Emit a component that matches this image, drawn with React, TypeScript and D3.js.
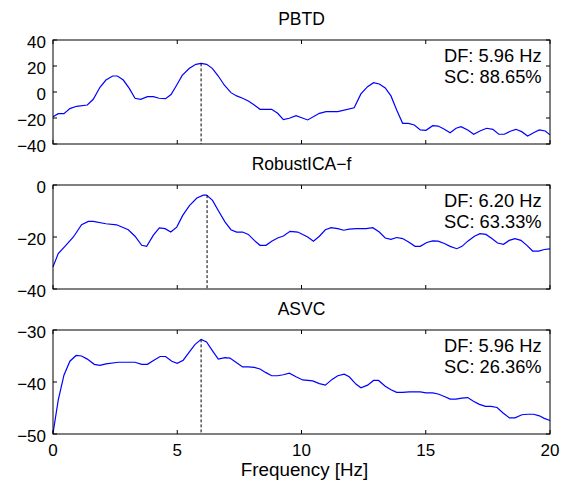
import React from 'react'
import * as d3 from 'd3'

// frequency (Hz) / magnitude (dB) samples
const pbtdFreq = [0, 0.21, 0.44, 0.68, 0.95, 1.38, 1.62, 1.89, 2.13, 2.4, 2.59, 2.83, 3.07, 3.3, 3.53, 3.8, 4.04, 4.27, 4.53, 4.75, 4.98, 5.2, 5.49, 5.75, 5.96, 6.18, 6.41, 6.65, 6.89, 7.16, 7.39, 7.63, 7.86, 8.1, 8.33, 8.57, 8.8, 9.04, 9.27, 9.51, 9.78, 10.25, 10.72, 10.99, 11.46, 12.12, 12.39, 12.66, 12.9, 13.13, 13.37, 13.6, 13.83, 14.07, 14.3, 14.54, 14.78, 15.01, 15.28, 15.5, 15.75, 15.98, 16.22, 16.42, 16.69, 16.93, 17.18, 17.45, 17.7, 17.94, 18.16, 18.43, 18.63, 18.86, 19.1, 19.34, 19.57, 19.81, 20]
const pbtdVal = [-19, -16.7, -16.7, -12.8, -11, -10, -5.6, 3.6, 9.2, 12.3, 12.3, 9.2, 2.8, -4.8, -5.6, -3.6, -3.6, -4.8, -5.1, -2, 5.4, 12.8, 18.2, 21.3, 22, 21.3, 18.2, 12.3, 5.4, -0.5, -3, -4.8, -6.9, -10, -13.3, -13.3, -13.3, -16.4, -21.2, -20.2, -18.2, -21.5, -16.4, -15.1, -15.1, -12.1, -1.5, 4.1, 7.2, 6.2, 3.1, -3, -13.8, -24.1, -24.1, -25.4, -29.2, -29.5, -25.9, -26.2, -28.7, -31.3, -27.9, -26.7, -29.2, -32.5, -30, -27.9, -28.7, -32.5, -32.5, -30, -28.7, -30.5, -33.8, -31.3, -29.2, -30, -33]

const ricaFreq = [0, 0.21, 0.48, 0.82, 1.15, 1.42, 1.62, 2.13, 2.56, 3.03, 3.3, 3.57, 3.77, 4.04, 4.28, 4.51, 4.74, 4.98, 5.22, 5.49, 5.79, 6.05, 6.18, 6.42, 6.65, 6.92, 7.16, 7.39, 7.63, 7.86, 8.1, 8.33, 8.57, 8.8, 9.04, 9.27, 9.54, 9.85, 10.25, 10.48, 10.72, 10.96, 11.19, 11.46, 11.7, 11.92, 12.2, 12.6, 12.87, 13.13, 13.37, 13.6, 13.83, 14.07, 14.31, 14.57, 14.78, 15.04, 15.28, 15.5, 15.75, 15.98, 16.25, 16.46, 16.69, 16.96, 17.18, 17.42, 17.66, 17.89, 18.13, 18.36, 18.59, 18.83, 19.07, 19.3, 19.54, 19.77, 20]
const ricaVal = [-31.5, -26.4, -23.6, -20, -15.3, -14, -14, -14.9, -15.3, -17.2, -19.7, -23.2, -23.6, -19.3, -16.5, -16.8, -18.1, -16.2, -11.7, -7.9, -5, -3.9, -3.9, -5.9, -9.8, -14.2, -17.2, -18.1, -18.1, -19, -21.3, -23.2, -23.2, -21.6, -20.4, -19.6, -17.8, -18.1, -20, -21.6, -19.7, -17.2, -16.4, -16.8, -17.4, -17, -16.8, -16.8, -16.4, -18.1, -20.4, -20.9, -20.2, -20.6, -21.9, -23.6, -23.6, -22.1, -21.5, -21.6, -22.5, -23.6, -24.5, -23.6, -21.6, -19.7, -18.7, -19, -20.6, -22.3, -22.8, -21.3, -20.6, -21.3, -23.2, -25.4, -25.4, -24.8, -24.6]

const asvcFreq = [0, 0.21, 0.44, 0.68, 0.93, 1.15, 1.38, 1.66, 1.89, 2.13, 2.63, 3.3, 3.57, 3.8, 4.06, 4.31, 4.53, 4.78, 5.0, 5.24, 5.49, 5.71, 5.96, 6.18, 6.42, 6.65, 6.92, 7.12, 7.39, 7.63, 7.86, 8.1, 8.33, 8.57, 8.8, 9.04, 9.27, 9.51, 9.78, 10.05, 10.45, 10.72, 10.96, 11.23, 11.46, 11.72, 11.92, 12.19, 12.39, 12.66, 12.9, 13.1, 13.37, 13.6, 13.83, 14.07, 14.34, 14.78, 15.01, 15.28, 15.5, 15.75, 15.98, 16.22, 16.45, 16.69, 16.92, 17.16, 17.4, 17.63, 17.87, 18.1, 18.37, 18.59, 18.87, 19.1, 19.34, 19.57, 19.77, 20]
const asvcVal = [-49.9, -43.5, -38.7, -36, -34.9, -35, -35.6, -36.6, -36.8, -36.5, -36.2, -36.2, -36.6, -36.6, -35.8, -35.1, -35.1, -36, -36.4, -35.8, -34.2, -32.8, -31.8, -32.3, -34, -35.6, -35.3, -35.4, -36.3, -37.1, -37.1, -37.2, -37.5, -38.2, -38.8, -38.8, -38.6, -38.3, -39, -39.6, -39.8, -40.3, -40.6, -39.5, -38.8, -38.5, -39, -40.4, -41.1, -40.6, -39.7, -39.7, -40.8, -41.5, -42, -42, -41.9, -41.9, -42.1, -42.1, -42.3, -42.8, -43.3, -43.3, -43.1, -43, -43.7, -44.3, -44.7, -44.7, -44.9, -45.9, -46.9, -46.9, -46.3, -46.2, -46.2, -46.5, -47, -47.4]

const titles = ['PBTD', 'RobustICA\u2212f', 'ASVC']
const dfLabels = ['DF: 5.96 Hz', 'DF: 6.20 Hz', 'DF: 5.96 Hz']
const scLabels = ['SC: 88.65%', 'SC: 63.33%', 'SC: 26.36%']
const peakFreq = [5.96, 6.2, 5.96]
const peakVal = [22, -3.9, -31.8]
const yDomains = [[-40, 40], [-40, 0], [-50, -30]]
const yTicks = [[-40, -20, 0, 20, 40], [-40, -20, 0], [-50, -40, -30]]
const xTicks = [0, 5, 10, 15, 20]

const W = 566
const H = 481
const left = 53
const right = 550
const panelTops = [40, 185, 330]
const panelH = 104
const font = 'Liberation Sans, Arial, Helvetica, sans-serif'
const fs = 17

export default function App() {
  const freqs = [pbtdFreq, ricaFreq, asvcFreq]
  const vals = [pbtdVal, ricaVal, asvcVal]
  const x = d3.scaleLinear().domain([0, 20]).range([left, right])

  return (
    <svg width={W} height={H} style={{ position: 'absolute', left: 0, top: 0, background: '#fff' }}
      fontFamily={font} fontSize={fs}>
      {titles.map((t, i) => {
        const top = panelTops[i]
        const bottom = top + panelH
        const y = d3.scaleLinear().domain(yDomains[i]).range([bottom, top])
        const pts = freqs[i].map((f, k) => [f, vals[i][k]] as [number, number])
        const line = d3.line<[number, number]>().x(d => x(d[0])).y(d => y(d[1]))
        return (
          <g key={t}>
            <path d={line(pts) || ''} fill="none" stroke="#0000ff" strokeWidth={1.2} />
            <line x1={x(peakFreq[i])} x2={x(peakFreq[i])} y1={y(peakVal[i])} y2={bottom}
              stroke="#000" strokeWidth={1} strokeDasharray="3,2" />
            <rect x={left} y={top} width={right - left} height={panelH} fill="none" stroke="#000" strokeWidth={1} />
            {xTicks.map(v => (
              <g key={'x' + v}>
                <line x1={x(v)} x2={x(v)} y1={top} y2={top + 4} stroke="#000" />
                <line x1={x(v)} x2={x(v)} y1={bottom} y2={bottom - 4} stroke="#000" />
              </g>
            ))}
            {yTicks[i].map(v => (
              <g key={'y' + v}>
                <line x1={left} x2={left + 4} y1={y(v)} y2={y(v)} stroke="#000" />
                <line x1={right} x2={right - 4} y1={y(v)} y2={y(v)} stroke="#000" />
                <text x={left - 7} y={y(v) + 8} textAnchor="end">{v < 0 ? '\u2212' + Math.abs(v) : v}</text>
              </g>
            ))}
            <text x={(left + right) / 2} y={top - 15} textAnchor="middle" fontSize={17.5}>{t}</text>
            <text x={444} y={top + 22} fontSize={18.3}>{dfLabels[i]}</text>
            <text x={444} y={top + 43} fontSize={18.3}>{scLabels[i]}</text>
          </g>
        )
      })}
      {xTicks.map(v => (
        <text key={'xl' + v} x={x(v)} y={panelTops[2] + panelH + 22} textAnchor="middle">{v}</text>
      ))}
      <text x={(left + right) / 2 + 3} y={476} textAnchor="middle" fontSize={18.8}>Frequency [Hz]</text>
    </svg>
  )
}
